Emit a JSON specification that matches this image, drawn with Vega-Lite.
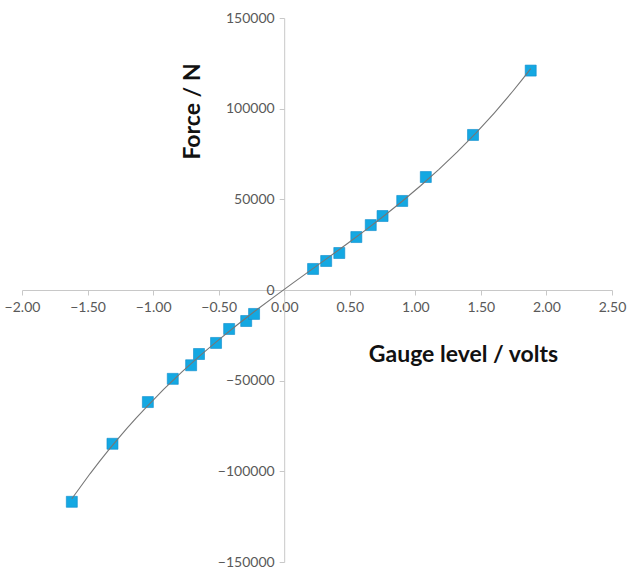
{
  "$schema": "https://vega.github.io/schema/vega-lite/v6.json",
  "width": 590,
  "height": 544,
  "autosize": {"type": "none"},
  "padding": {"left": 22, "top": 18, "right": 15, "bottom": 10},
  "background": "white",
  "config": {
    "view": {"stroke": null},
    "font": "Lato",
    "axis": {"grid": false, "domainColor": "#c8c8c8", "tickColor": "#c8c8c8", "tickSize": 5, "labelColor": "#595959", "labelFontSize": 14, "labelFont": "Lato", "titleFont": "Lato", "titleFontWeight": "bold", "titleFontSize": 23, "titleColor": "#111111", "labelPadding": 5, "labelFlush": false, "labelOverlap": false}
  },
  "data": {
    "values": [
      {"v": -1.62, "f": -116800},
      {"v": -1.31, "f": -84800},
      {"v": -1.04, "f": -61800},
      {"v": -0.85, "f": -49000},
      {"v": -0.71, "f": -41500},
      {"v": -0.65, "f": -35300},
      {"v": -0.52, "f": -29200},
      {"v": -0.42, "f": -21500},
      {"v": -0.29, "f": -17100},
      {"v": -0.23, "f": -13200},
      {"v": 0.22, "f": 11600},
      {"v": 0.32, "f": 16000},
      {"v": 0.42, "f": 20400},
      {"v": 0.55, "f": 29200},
      {"v": 0.66, "f": 35800},
      {"v": 0.75, "f": 40800},
      {"v": 0.90, "f": 49100},
      {"v": 1.08, "f": 62300},
      {"v": 1.44, "f": 85500},
      {"v": 1.88, "f": 121000}
    ]
  },
  "layer": [
    {
      "mark": {"type": "point", "shape": "square", "filled": true, "size": 121, "color": "#14a8e2", "stroke": "#0b8ccc", "strokeWidth": 0.6, "opacity": 1},
      "encoding": {
        "x": {"field": "v", "type": "quantitative",
          "scale": {"domain": [-2, 2.5], "nice": false, "zero": false},
          "axis": {"orient": "bottom", "offset": -272, "values": [-2, -1.5, -1, -0.5, 0, 0.5, 1, 1.5, 2, 2.5], "format": ".2f", "title": "Gauge level / volts", "titleX": 441, "titleY": 64, "titleAlign": "center", "titleBaseline": "middle", "titleAnchor": null}},
        "y": {"field": "f", "type": "quantitative",
          "scale": {"domain": [-150000, 150000], "nice": false},
          "axis": {"orient": "left", "offset": -262.2, "values": [-150000, -100000, -50000, 0, 50000, 100000, 150000], "format": "d", "title": "Force / N", "titleX": -92, "titleY": 93, "titleAngle": -90, "titleAlign": "center", "titleBaseline": "middle", "titleAnchor": null}}
      }
    },
    {
      "transform": [{"regression": "f", "on": "v", "method": "poly", "order": 3, "extent": [-1.62, 1.88]}],
      "mark": {"type": "line", "color": "#767676", "strokeWidth": 1.1},
      "encoding": {
        "x": {"field": "v", "type": "quantitative"},
        "y": {"field": "f", "type": "quantitative"}
      }
    }
  ]
}
